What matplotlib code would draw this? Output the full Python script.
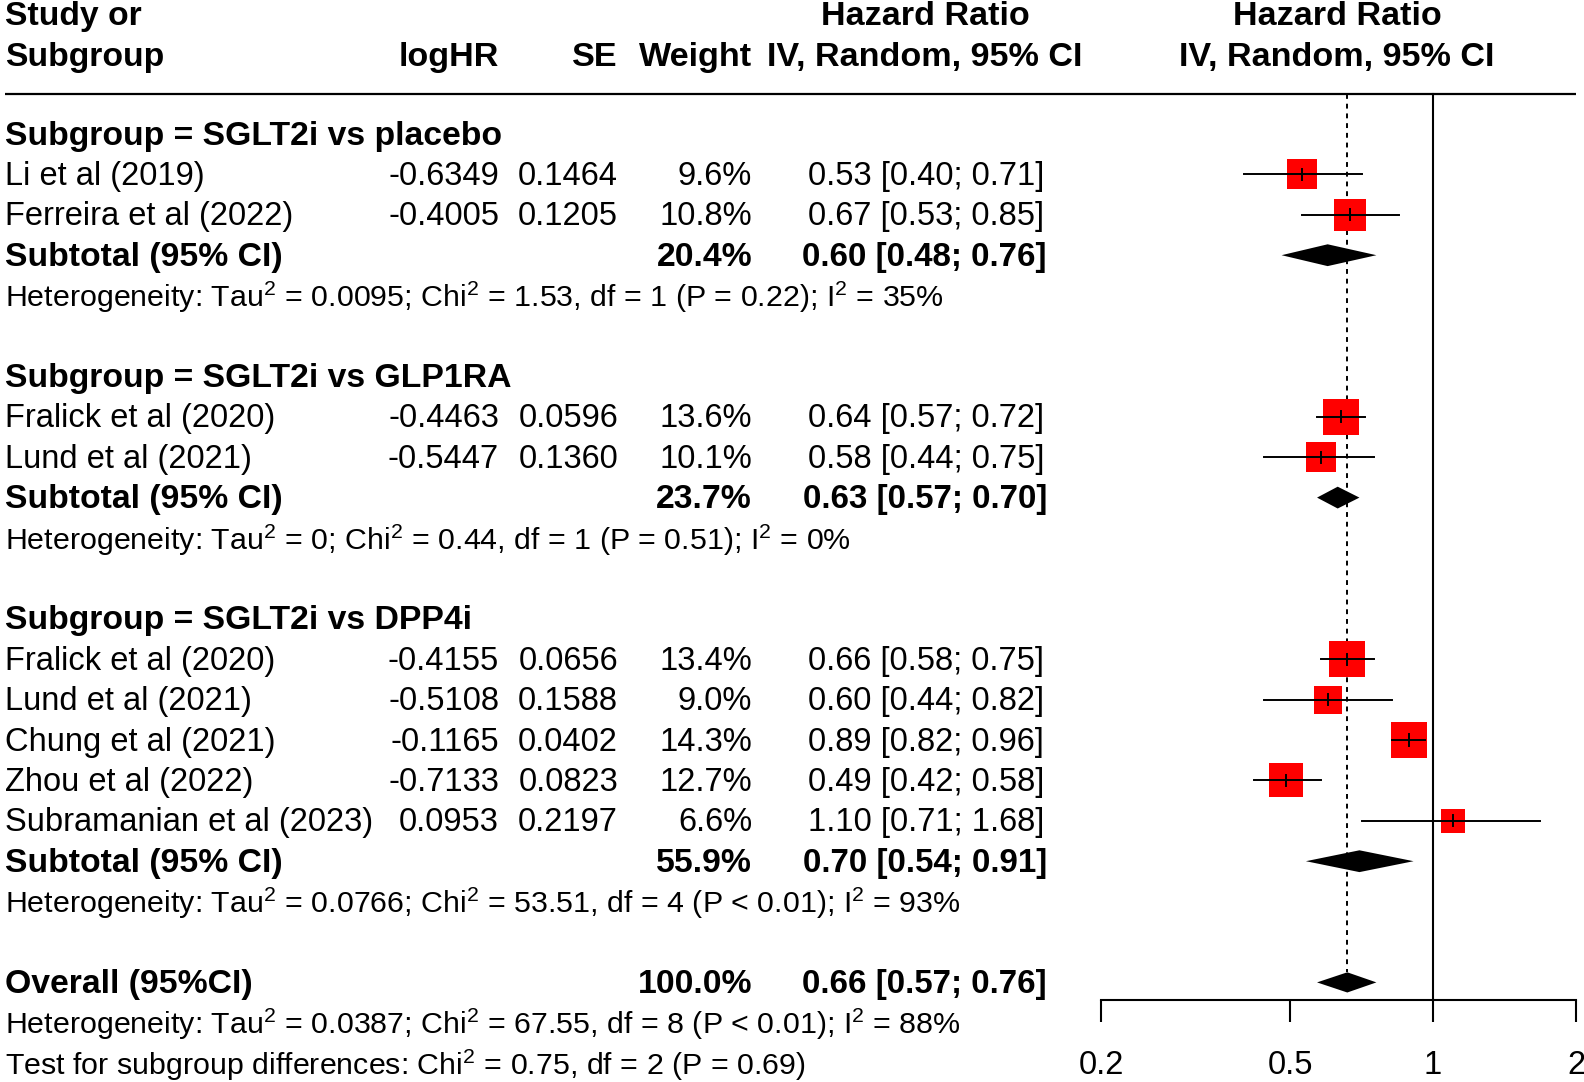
import numpy as np
import matplotlib
matplotlib.use("Agg")
import matplotlib.pyplot as plt

plt.rcParams['font.family'] = ['Liberation Sans', 'DejaVu Sans']
plt.rcParams['mathtext.fontset'] = 'custom'
plt.rcParams['mathtext.rm'] = 'Liberation Sans'

# data
groups = ["SGLT2i vs placebo", "SGLT2i vs GLP1RA", "SGLT2i vs DPP4i"]
studies = ["Li et al (2019)", "Ferreira et al (2022)",
           "Fralick et al (2020)", "Lund et al (2021)",
           "Fralick et al (2020)", "Lund et al (2021)", "Chung et al (2021)",
           "Zhou et al (2022)", "Subramanian et al (2023)"]
study_group = [0, 0, 1, 1, 2, 2, 2, 2, 2]
loghr = ["-0.6349", "-0.4005", "-0.4463", "-0.5447", "-0.4155", "-0.5108", "-0.1165", "-0.7133", "0.0953"]
se = ["0.1464", "0.1205", "0.0596", "0.1360", "0.0656", "0.1588", "0.0402", "0.0823", "0.2197"]
weight = [9.6, 10.8, 13.6, 10.1, 13.4, 9.0, 14.3, 12.7, 6.6]
hr = [0.53, 0.67, 0.64, 0.58, 0.66, 0.60, 0.89, 0.49, 1.10]
hr_lo = [0.40, 0.53, 0.57, 0.44, 0.58, 0.44, 0.82, 0.42, 0.71]
hr_hi = [0.71, 0.85, 0.72, 0.75, 0.75, 0.82, 0.96, 0.58, 1.68]

sub_weight = [20.4, 23.7, 55.9]
sub_hr = [0.60, 0.63, 0.70]
sub_lo = [0.48, 0.57, 0.54]
sub_hi = [0.76, 0.70, 0.91]
sub_tau2 = ["0.0095", "0", "0.0766"]
sub_chi2 = ["1.53", "0.44", "53.51"]
sub_df = [1, 1, 4]
sub_p = ["= 0.22", "= 0.51", "< 0.01"]
sub_i2 = ["35%", "0%", "93%"]

all_weight = 100.0
all_hr, all_lo, all_hi = 0.66, 0.57, 0.76
all_tau2, all_chi2, all_df, all_p, all_i2 = "0.0387", "67.55", 8, "< 0.01", "88%"
test_chi2, test_df, test_p = "0.75", 2, "= 0.69"

xticks = [0.2, 0.5, 1, 2]
xticklabels = ["0.2", "0.5", "1", "2"]

W, H = 1584, 1082
row0, rowh = 134, 40.4
ytop = -row0 / rowh
ybot = (H - row0) / rowh

fig = plt.figure(figsize=(W / 100, H / 100), dpi=100)
tx = fig.add_axes([0, 0, 1, 1])
tx.set_xlim(0, W)
tx.set_ylim(ybot, ytop)
tx.axis('off')

fx = fig.add_axes([1101 / W, 0, 475 / W, 1])
fx.set_xscale('log')
fx.set_xlim(0.2, 2)
fx.set_ylim(ybot, ytop)
fx.patch.set_alpha(0)

fs = 23.5       # plain rows
fs_bold = 24.3  # bold rows
fs_boldci = 23.9
fs_head = 24.6  # column headers
fs_het = 21.9   # heterogeneity lines
dy = 0.05
sup = r"$\mathregular{^2}$"

def het(tau2, chi2, df, p, i2):
    return ("Heterogeneity: Tau" + sup + " = " + tau2 + "; Chi" + sup + " = " + chi2 +
            ", df = " + str(df) + " (P " + p + "); I" + sup + " = " + i2)

def put(x, y, s, size=fs, bold=False, ha='left'):
    tx.text(x, y + dy, s, fontsize=size, fontweight='bold' if bold else 'normal',
            va='center', ha=ha)

# header
X_NAME, X_LOG, X_SE, X_W, X_CI, X_CIB, X_CIH, X_PLOT = 5, 499, 618, 752, 1044, 1047, 925, 1337
put(X_NAME, -2.95, "Study or", size=fs_bold, bold=True)
put(X_NAME, -1.95, "Subgroup", size=fs_bold, bold=True)
put(X_LOG, -1.95, "logHR", size=fs_head, bold=True, ha='right')
put(X_SE, -1.95, "SE", size=fs_head, bold=True, ha='right')
put(X_W, -1.95, "Weight", size=fs_head, bold=True, ha='right')
put(X_CIH, -2.95, "Hazard Ratio", size=fs_head, bold=True, ha='center')
put(X_CIH, -1.95, "IV, Random, 95% CI", size=fs_head, bold=True, ha='center')
put(X_PLOT, -2.95, "Hazard Ratio", size=fs_head, bold=True, ha='center')
put(X_PLOT, -1.95, "IV, Random, 95% CI", size=fs_head, bold=True, ha='center')
tx.plot([5, 1576], [-1.0, -1.0], color='black', lw=1.6, solid_capstyle='butt')

row = 0
for g, name in enumerate(groups):
    put(X_NAME, row, "Subgroup = " + name, size=fs_bold, bold=True)
    row += 1
    for k in [i for i in range(len(studies)) if study_group[i] == g]:
        put(X_NAME, row, studies[k])
        put(X_LOG, row, loghr[k], ha='right')
        put(X_SE, row, se[k], ha='right')
        put(X_W, row, "%.1f%%" % weight[k], ha='right')
        put(X_CI, row, "%.2f [%.2f; %.2f]" % (hr[k], hr_lo[k], hr_hi[k]), ha='right')
        fx.plot([hr_lo[k], hr_hi[k]], [row, row], color='black', lw=1.4, zorder=3)
        side = 9.6 * np.sqrt(weight[k]) * 0.72
        fx.scatter([hr[k]], [row], marker='s', s=side ** 2, color='#ff0000', linewidths=0, zorder=2)
        fx.plot([hr[k], hr[k]], [row - 0.14, row + 0.14], color='black', lw=1.4, zorder=4)
        row += 1
    put(X_NAME, row, "Subtotal (95% CI)", size=fs_bold, bold=True)
    put(X_W, row, "%.1f%%" % sub_weight[g], size=fs_bold, bold=True, ha='right')
    put(X_CIB, row, "%.2f [%.2f; %.2f]" % (sub_hr[g], sub_lo[g], sub_hi[g]), size=fs_boldci,
        bold=True, ha='right')
    fx.fill([sub_lo[g], sub_hr[g], sub_hi[g], sub_hr[g]], [row, row - 0.27, row, row + 0.27],
            color='black', lw=0, zorder=3)
    row += 1
    put(X_NAME, row, het(sub_tau2[g], sub_chi2[g], sub_df[g], sub_p[g], sub_i2[g]), size=fs_het)
    row += 2

put(X_NAME, row, "Overall (95%CI)", size=fs_bold, bold=True)
put(X_W, row, "%.1f%%" % all_weight, size=fs_bold, bold=True, ha='right')
put(X_CIB, row, "%.2f [%.2f; %.2f]" % (all_hr, all_lo, all_hi), size=fs_boldci, bold=True, ha='right')
fx.fill([all_lo, all_hr, all_hi, all_hr], [row, row - 0.25, row, row + 0.25], color='black', lw=0, zorder=3)
overall_row = row
put(X_NAME, row + 1, het(all_tau2, all_chi2, all_df, all_p, all_i2), size=fs_het)
put(X_NAME, row + 2, "Test for subgroup differences: Chi" + sup + " = " + test_chi2 +
    ", df = " + str(test_df) + " (P " + test_p + ")", size=fs_het)

# reference lines
axis_y = (1000 - row0) / rowh
fx.plot([1, 1], [-1.0, axis_y], color='black', lw=1.5, zorder=1)
fx.plot([all_hr, all_hr], [-1.0, overall_row - 0.25], color='black', lw=1.4,
        linestyle=(0, (2.5, 2.5)), zorder=1)

# x axis
for s in ['top', 'left', 'right']:
    fx.spines[s].set_visible(False)
fx.spines['bottom'].set_position(('data', axis_y))
fx.spines['bottom'].set_bounds(0.2, 2)
fx.spines['bottom'].set_linewidth(1.5)
fx.set_yticks([])
fx.set_xticks(xticks)
fx.set_xticklabels(xticklabels, fontsize=fs)
fx.xaxis.set_minor_locator(matplotlib.ticker.NullLocator())
fx.tick_params(axis='x', direction='out', length=16, width=1.5, pad=20)

fig.savefig("out.png", dpi=100)
